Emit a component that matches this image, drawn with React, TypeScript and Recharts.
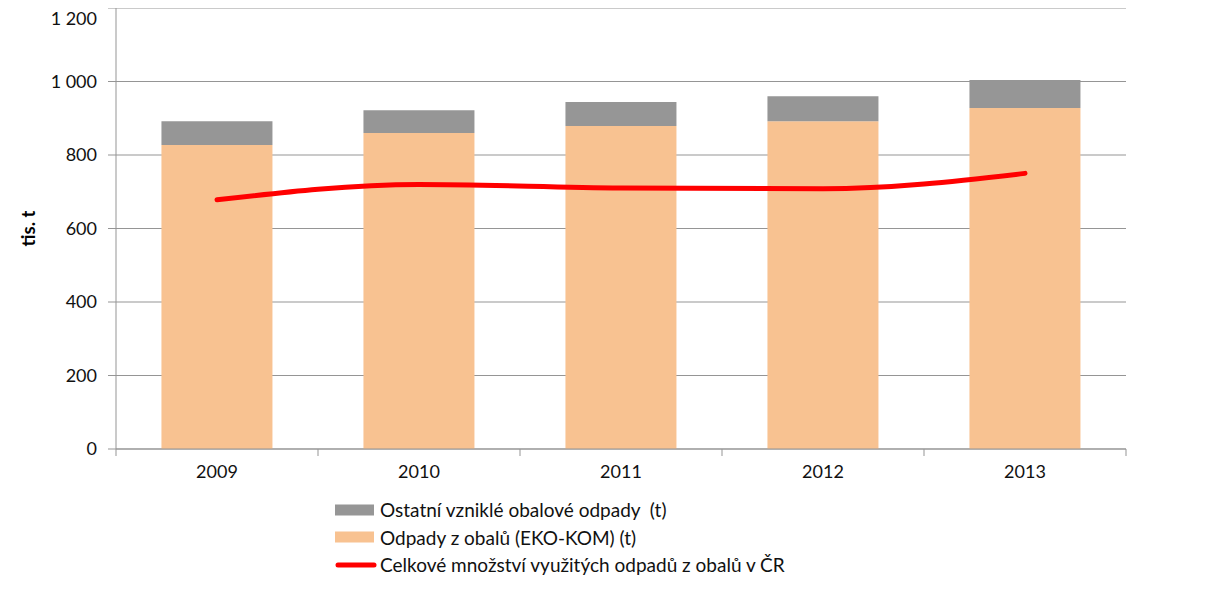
import React from 'react'
import { ComposedChart, Bar, Line, XAxis, YAxis, CartesianGrid } from 'recharts'

const years = ['2009', '2010', '2011', '2012', '2013']
const ekoKom = [827, 860, 879, 892, 928]
const ostatni = [65, 62, 65, 68, 76]
const vyuzite = [678, 720, 710, 708, 750]
const yTicks = [0, 200, 400, 600, 800, 1000, 1200]

const legendItems = [
  { name: 'Ostatní vzniklé obalové odpady  (t)', kind: 'bar', color: '#969696' },
  { name: 'Odpady z obalů (EKO-KOM) (t)', kind: 'bar', color: '#F8C291' },
  { name: 'Celkové množství využitých odpadů z obalů v ČR', kind: 'line', color: '#FF0000' },
]

const data = years.map((year, i) => ({
  year,
  ekoKom: ekoKom[i],
  ostatni: ostatni[i],
  vyuzite: vyuzite[i],
}))

const FONT = 'Lato, "Open Sans", sans-serif'
const GRID = '#959595'

const fmt = (v: number) => (v >= 1000 ? `${Math.floor(v / 1000)} ${String(v % 1000).padStart(3, '0')}` : String(v))

// tick marks sit between categories, like Excel
function XTick(props: any) {
  const { x, y, payload, index } = props
  const half = payload?.offset ?? 101
  const last = index === years.length - 1
  return (
    <g>
      <line x1={x - half} x2={x - half} y1={y - 8} y2={y - 1} stroke={GRID} />
      {last && <line x1={x + half} x2={x + half} y1={y - 8} y2={y - 1} stroke={GRID} />}
      <text x={x} y={y + 21} textAnchor="middle" fontSize={18} fontFamily={FONT} fill="#111">
        {payload.value}
      </text>
    </g>
  )
}

export default function App() {
  return (
    <div style={{ position: 'relative', width: 1205, height: 581 }}>
      <ComposedChart
        width={1205}
        height={581}
        data={data}
        margin={{ top: 0, right: 87, bottom: 100, left: 0 }}
        barCategoryGap="22.5%"
      >
        <CartesianGrid vertical={false} stroke={GRID} strokeWidth={1} />
        <XAxis
          dataKey="year"
          height={40}
          axisLine={{ stroke: GRID }}
          tickLine={false}
          tick={<XTick />}
          interval={0}
        />
        <YAxis
          width={108}
          domain={[0, 1200]}
          ticks={yTicks}
          tickFormatter={fmt}
          axisLine={{ stroke: GRID }}
          tickLine={{ stroke: GRID }}
          tickSize={8}
          tickMargin={11}
          tick={{ fontSize: 18, fontFamily: FONT, fill: '#111' }}
          label={{
            value: 'tis. t',
            angle: -90,
            position: 'insideLeft',
            offset: 20,
            style: { fontSize: 18.5, fontWeight: 'bold', fontFamily: FONT, fill: '#000', textAnchor: 'middle' },
          }}
        />
        <Bar dataKey="ekoKom" stackId="a" fill="#F8C291" isAnimationActive={false} />
        <Bar dataKey="ostatni" stackId="a" fill="#969696" isAnimationActive={false} />
        <Line
          dataKey="vyuzite"
          type="monotone"
          stroke="#FF0000"
          strokeWidth={5}
          strokeLinecap="round"
          dot={false}
          activeDot={false}
          isAnimationActive={false}
        />
      </ComposedChart>
      <div style={{ position: 'absolute', left: 327, top: 488, fontFamily: FONT, fontSize: 19, color: '#111' }}>
        {legendItems.map(item => (
          <div key={item.name} style={{ display: 'flex', alignItems: 'center', height: 27.5 }}>
            <svg width={45} height={12} style={{ flex: 'none' }}>
              {item.kind === 'bar' ? (
                <rect x={0} y={0.5} width={39} height={11} fill={item.color} />
              ) : (
                <line x1={3} x2={39} y1={6} y2={6} stroke={item.color} strokeWidth={5} strokeLinecap="round" />
              )}
            </svg>
            <span style={{ whiteSpace: 'pre' }}>{item.name}</span>
          </div>
        ))}
      </div>
    </div>
  )
}
